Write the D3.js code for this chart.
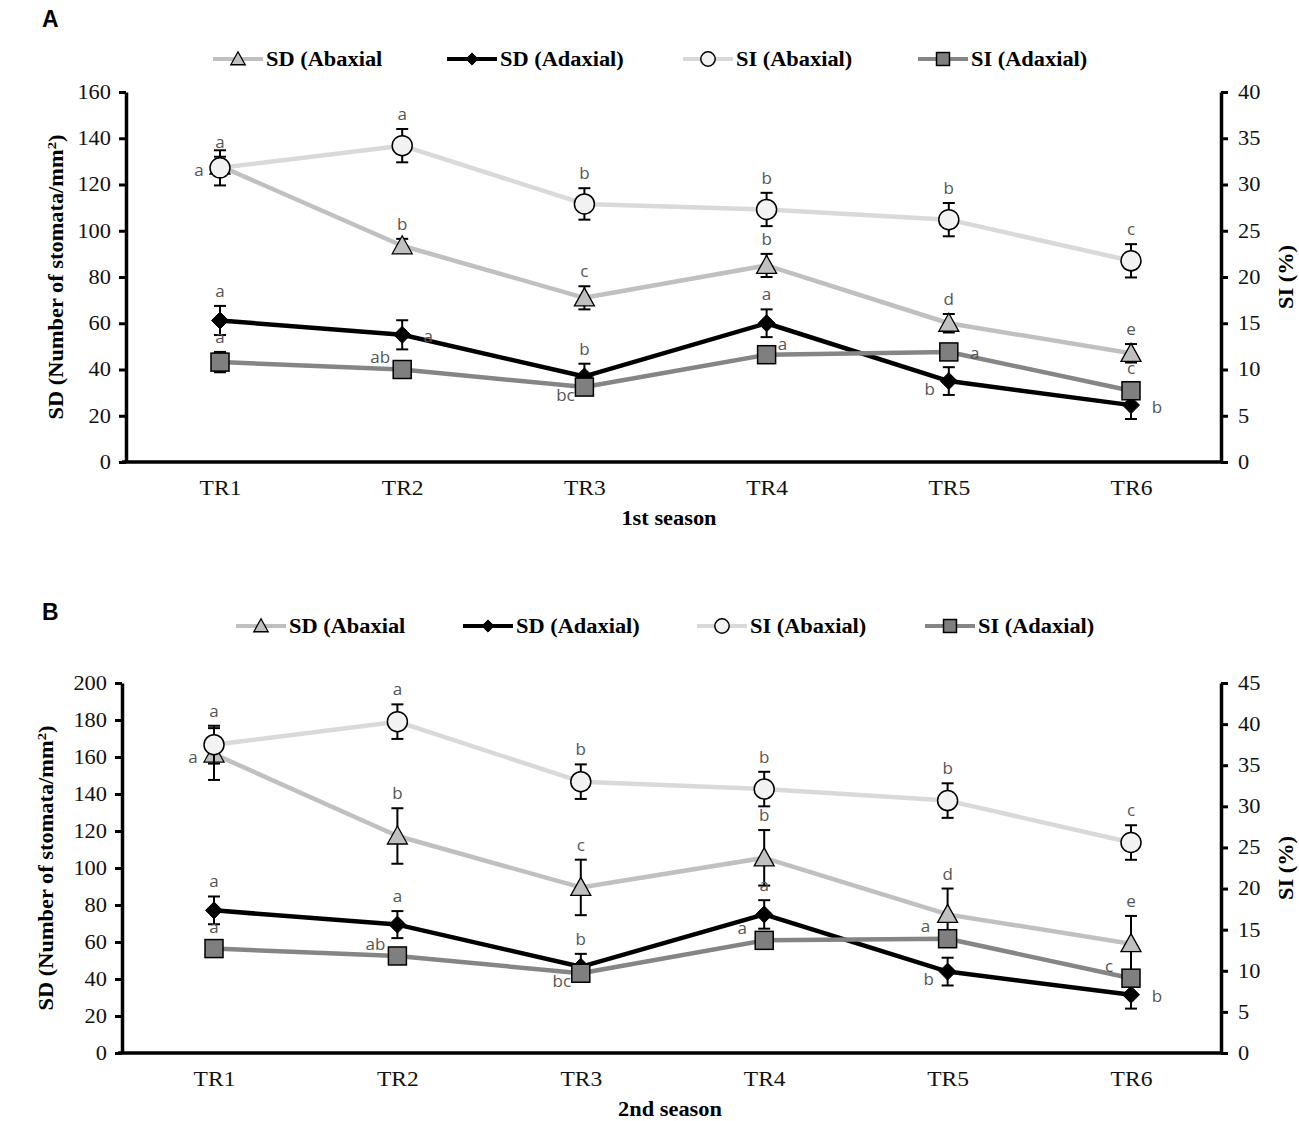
<!DOCTYPE html>
<html>
<head>
<meta charset="utf-8">
<script src="https://d3js.org/d3.v7.min.js"></script>
<style>
  body { margin: 0; background: #fff; }
</style>
</head>
<body>
<svg id="vis"></svg>
<script>
  // categories
  var categories = ["TR1", "TR2", "TR3", "TR4", "TR5", "TR6"];

  // 1st season (panel A)
  var sdAbaxA = [128, 93.5, 71, 85, 60, 47];
  var sdAbaxAErr = [4, 3, 5, 5, 4, 4];
  var sdAdaxA = [61.2, 55, 37, 60, 35, 24.6];
  var sdAdaxAErr = [6.3, 6.3, 5.5, 6, 6, 6];
  var siAbaxA = [31.8, 34.2, 27.9, 27.3, 26.2, 21.75];
  var siAbaxAErr = [1.9, 1.8, 1.7, 1.8, 1.8, 1.8];
  var siAdaxA = [10.8, 10, 8.1, 11.6, 11.9, 7.7];
  var siAdaxAErr = [1.1, 0.8, 0.8, 0.8, 0.8, 0.8];

  // 2nd season (panel B)
  var sdAbaxB = [161.6, 117.3, 89.5, 105.5, 74.9, 59.1];
  var sdAbaxBErr = [14, 15, 15, 15, 14, 15];
  var sdAdaxB = [77.1, 69.4, 46.6, 74.9, 44, 31.5];
  var sdAdaxBErr = [7.5, 7.3, 7, 7.7, 7.5, 7.5];
  var siAbaxB = [37.5, 40.3, 33.0, 32.1, 30.7, 25.6];
  var siAbaxBErr = [2.3, 2.1, 2.1, 2.1, 2.1, 2.1];
  var siAdaxB = [12.7, 11.8, 9.7, 13.7, 13.9, 9.1];
  var siAdaxBErr = [0.8, 0.8, 0.8, 0.8, 0.8, 0.8];

  // significance letters
  var sdAbaxALet = ["a", "b", "c", "b", "d", "e"];
  var sdAdaxALet = ["a", "a", "b", "a", "b", "b"];
  var siAbaxALet = ["a", "a", "b", "b", "b", "c"];
  var siAdaxALet = ["a", "ab", "bc", "a", "a", "c"];
  var sdAbaxBLet = ["a", "b", "c", "b", "d", "e"];
  var sdAdaxBLet = ["a", "a", "b", "a", "b", "b"];
  var siAbaxBLet = ["a", "a", "b", "b", "b", "c"];
  var siAdaxBLet = ["a", "ab", "bc", "a", "a", "c"];

  // where each letter sits relative to its point
  var sdAbaxAPos = ["t", "t", "t", "t", "t", "t"];
  var sdAdaxAPos = ["t", "r", "t", "t", "bl", "r"];
  var siAbaxAPos = ["l", "t", "t", "t", "t", "t"];
  var siAdaxAPos = ["t", "tl", "bl", "tr", "r", "t"];
  var sdAbaxBPos = ["l", "t", "t", "t", "t", "t"];
  var sdAdaxBPos = ["t", "t", "t", "t", "bl", "r"];
  var siAbaxBPos = ["t", "t", "t", "t", "t", "t"];
  var siAdaxBPos = ["t", "tl", "bl", "tl", "tl", "tl"];

  var leftTicksA = [0, 20, 40, 60, 80, 100, 120, 140, 160];
  var rightTicksA = [0, 5, 10, 15, 20, 25, 30, 35, 40];
  var leftTicksB = [0, 20, 40, 60, 80, 100, 120, 140, 160, 180, 200];
  var rightTicksB = [0, 5, 10, 15, 20, 25, 30, 35, 40, 45];

  var legendNames = ["SD (Abaxial", "SD (Adaxial)", "SI (Abaxial)", "SI (Adaxial)"];

  var serif = "'Liberation Serif', 'Times New Roman', serif";
  var sans = "'Open Sans', 'Liberation Sans', sans-serif";
  var wide = 1.12; // the figure's serif text runs wider than Liberation Serif

  var styles = [
    {line: "#c0c0c0", fill: "#c0c0c0", shape: "triangle"},
    {line: "#000000", fill: "#000000", shape: "diamond"},
    {line: "#d9d9d9", fill: "#f2f2f2", shape: "circle"},
    {line: "#858585", fill: "#7f7f7f", shape: "square"}
  ];

  var svg = d3.select("#vis")
      .attr("width", 1299)
      .attr("height", 1121)
      .style("font-family", serif);

  function wideText(g, x, y, rot) {
    return g.append("text")
      .attr("transform", "translate(" + x + "," + y + ")" + (rot ? " rotate(" + rot + ")" : "") + " scale(" + wide + ",1)");
  }

  function marker(g, shape, x, y, fill, big) {
    var s = big ? 1 : 0.72;
    if (shape === "circle") {
      g.append("circle").attr("cx", x).attr("cy", y).attr("r", 10 * s)
        .attr("fill", fill).attr("stroke", "#000").attr("stroke-width", 1.5);
    } else if (shape === "square") {
      var h = 9 * s;
      g.append("rect").attr("x", x - h).attr("y", y - h).attr("width", 2 * h).attr("height", 2 * h)
        .attr("fill", fill).attr("stroke", "#000").attr("stroke-width", 1.5);
    } else if (shape === "triangle") {
      var t = 10 * s;
      g.append("path").attr("d", "M" + x + "," + (y - t) + "L" + (x + t) + "," + (y + t * 0.8) + "L" + (x - t) + "," + (y + t * 0.8) + "Z")
        .attr("fill", fill).attr("stroke", "#000").attr("stroke-width", 1.3);
    } else {
      var d = 8.5 * s;
      g.append("path").attr("d", "M" + x + "," + (y - d) + "L" + (x + d) + "," + y + "L" + x + "," + (y + d) + "L" + (x - d) + "," + y + "Z")
        .attr("fill", fill).attr("stroke", "#000").attr("stroke-width", 1);
    }
  }

  function drawPanel(p) {
    var g = svg.append("g");

    // panel letter
    g.append("text").attr("x", p.letterX).attr("y", p.letterY)
      .style("font-family", "'Liberation Sans', Arial, sans-serif")
      .style("font-weight", "bold").style("font-size", "23px").text(p.letter);

    // legend
    legendNames.forEach(function(name, i) {
      var st = styles[i];
      var lx = p.legendX[i];
      g.append("line").attr("x1", lx).attr("x2", lx + 50)
        .attr("y1", p.legendY).attr("y2", p.legendY)
        .attr("stroke", st.line).attr("stroke-width", 4);
      marker(g, st.shape, lx + 25, p.legendY, st.fill, false);
      wideText(g, lx + 53, p.legendY + 7)
        .style("font-weight", "bold").style("font-size", "20px").text(name);
    });

    var x = d3.scalePoint().domain(categories).range([p.x0, p.x1]);
    var yL = d3.scaleLinear().domain([0, p.leftMax]).range([p.bottom, p.top]);
    var yR = d3.scaleLinear().domain([0, p.rightMax]).range([p.bottom, p.top]);

    // axes
    var axL = g.append("g").attr("transform", "translate(" + p.left + ",0)")
      .call(d3.axisLeft(yL).tickValues(p.leftTicks).tickSize(7).tickPadding(8).tickSizeOuter(0));
    var axR = g.append("g").attr("transform", "translate(" + p.right + ",0)")
      .call(d3.axisRight(yR).tickValues(p.rightTicks).tickSize(7).tickPadding(10).tickSizeOuter(0));
    var axB = g.append("g").attr("transform", "translate(0," + p.bottom + ")")
      .call(d3.axisBottom(x).tickSize(0).tickPadding(18).tickSizeOuter(0));
    [axL, axR, axB].forEach(function(a) {
      a.select(".domain").attr("stroke", "#000").attr("stroke-width", 3.5);
      a.selectAll(".tick line").attr("stroke", "#000").attr("stroke-width", 3);
      a.selectAll("text").style("font-family", serif).attr("fill", "#111")
        .each(function() {
          var t = d3.select(this);
          var tx = +t.attr("x") || 0, tyy = +t.attr("y") || 0;
          t.attr("x", 0).attr("y", 0)
            .attr("transform", "translate(" + tx + "," + tyy + ") scale(" + wide + ",1)");
        });
    });
    axL.selectAll("text").style("font-size", "20px");
    axR.selectAll("text").style("font-size", "20px");
    axB.selectAll("text").style("font-size", "21px");
    axB.select(".domain").attr("d", "M" + (p.left - 4) + ",0H" + p.right);

    // axis titles
    wideText(g, p.xTitleX, p.bottom + 63)
      .attr("text-anchor", "middle").style("font-weight", "bold").style("font-size", "20px")
      .text(p.xTitle);
    var ty = wideText(g, p.yTitleX, (p.top + p.bottom) / 2, -90)
      .attr("text-anchor", "middle").style("font-weight", "bold").style("font-size", "20px");
    ty.append("tspan").text("SD (Number of stomata/mm");
    ty.append("tspan").attr("baseline-shift", "super").style("font-size", "13px").text("2");
    ty.append("tspan").text(")");
    wideText(g, p.right + 72, (p.top + p.bottom) / 2, -90)
      .attr("text-anchor", "middle").style("font-weight", "bold").style("font-size", "20px")
      .text("SI (%)");

    var offs = {
      t:  [0, -9],
      l:  [-21, 4],
      r:  [26, 3],
      bl: [-19, 9],
      tl: [-22, -11],
      tr: [16, -9]
    };

    p.series.forEach(function(s, si) {
      var st = styles[si];
      var y = s.axis === "left" ? yL : yR;
      var sg = g.append("g");
      var line = d3.line().x(function(d, i) { return x(categories[i]); }).y(function(d) { return y(d); });
      sg.append("path").datum(s.values).attr("d", line)
        .attr("fill", "none").attr("stroke", st.line).attr("stroke-width", 4.5)
        .attr("stroke-linejoin", "round");
      // error bars
      s.values.forEach(function(v, i) {
        var cx = x(categories[i]);
        var y1 = y(v + s.err[i]), y2 = y(v - s.err[i]);
        sg.append("line").attr("x1", cx).attr("x2", cx).attr("y1", y1).attr("y2", y2)
          .attr("stroke", "#000").attr("stroke-width", 2);
        [y1, y2].forEach(function(yy) {
          sg.append("line").attr("x1", cx - 6).attr("x2", cx + 6).attr("y1", yy).attr("y2", yy)
            .attr("stroke", "#000").attr("stroke-width", 2);
        });
      });
      s.values.forEach(function(v, i) {
        marker(sg, st.shape, x(categories[i]), y(v), st.fill, true);
      });
      // letters
      s.values.forEach(function(v, i) {
        var pos = s.pos[i];
        var o = offs[pos];
        var cx = x(categories[i]);
        var cy = pos === "t" ? y(v + s.err[i]) : y(v);
        sg.append("text").attr("x", cx + o[0]).attr("y", cy + o[1])
          .attr("text-anchor", "middle").attr("dominant-baseline", pos === "t" ? "auto" : "middle")
          .style("font-family", sans).style("font-size", "17px").attr("fill", "#555")
          .text(s.letters[i]);
      });
    });
  }

  drawPanel({
    letter: "A", letterX: 42, letterY: 27,
    legendX: [213, 447, 683, 918], legendY: 59,
    left: 126, right: 1221, top: 92, bottom: 462, x0: 220, x1: 1131,
    leftMax: 160, rightMax: 40, leftTicks: leftTicksA, rightTicks: rightTicksA,
    xTitle: "1st season", xTitleX: 669, yTitleX: 63,
    series: [
      {values: sdAbaxA, err: sdAbaxAErr, letters: sdAbaxALet, pos: sdAbaxAPos, axis: "left"},
      {values: sdAdaxA, err: sdAdaxAErr, letters: sdAdaxALet, pos: sdAdaxAPos, axis: "left"},
      {values: siAbaxA, err: siAbaxAErr, letters: siAbaxALet, pos: siAbaxAPos, axis: "right"},
      {values: siAdaxA, err: siAdaxAErr, letters: siAdaxALet, pos: siAdaxAPos, axis: "right"}
    ]
  });

  drawPanel({
    letter: "B", letterX: 42, letterY: 620,
    legendX: [236, 463, 697, 925], legendY: 626,
    left: 122, right: 1221, top: 683, bottom: 1053, x0: 214, x1: 1131,
    leftMax: 200, rightMax: 45, leftTicks: leftTicksB, rightTicks: rightTicksB,
    xTitle: "2nd season", xTitleX: 670, yTitleX: 53,
    series: [
      {values: sdAbaxB, err: sdAbaxBErr, letters: sdAbaxBLet, pos: sdAbaxBPos, axis: "left"},
      {values: sdAdaxB, err: sdAdaxBErr, letters: sdAdaxBLet, pos: sdAdaxBPos, axis: "left"},
      {values: siAbaxB, err: siAbaxBErr, letters: siAbaxBLet, pos: siAbaxBPos, axis: "right"},
      {values: siAdaxB, err: siAdaxBErr, letters: siAdaxBLet, pos: siAdaxBPos, axis: "right"}
    ]
  });
</script>
</body>
</html>
